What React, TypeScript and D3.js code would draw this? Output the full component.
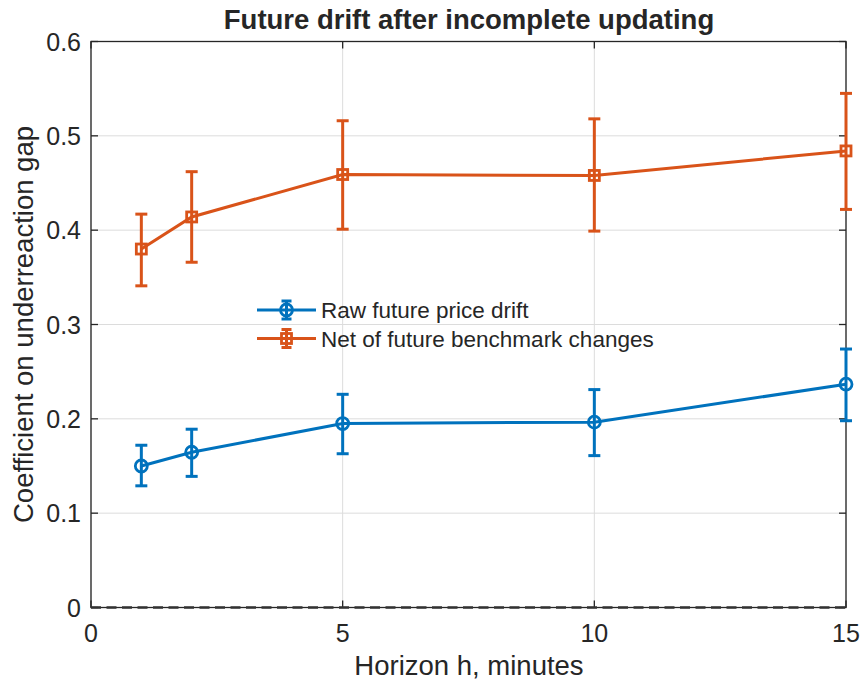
import React from "react";
import * as d3 from "d3";

const horizons = [1, 2, 5, 10, 15];
const rawDrift = [0.150, 0.1646, 0.195, 0.1965, 0.2367];
const rawLow = [0.129, 0.139, 0.163, 0.161, 0.198];
const rawHigh = [0.172, 0.189, 0.226, 0.231, 0.274];
const netDrift = [0.380, 0.414, 0.459, 0.458, 0.484];
const netLow = [0.341, 0.366, 0.401, 0.399, 0.422];
const netHigh = [0.417, 0.462, 0.516, 0.518, 0.545];
const xTicks = [0, 5, 10, 15];
const yTicks = [0, 0.1, 0.2, 0.3, 0.4, 0.5, 0.6];
const seriesNames = ["Raw future price drift", "Net of future benchmark changes"];

const W = 864;
const H = 681;
const left = 91;
const right = 846;
const top = 41.5;
const bottom = 607.5;
const BLUE = "#0072BD";
const ORANGE = "#D95319";
const AX = "#262626";
const FONT = "'Liberation Sans', Arial, Helvetica, sans-serif";

export default function App() {
  const x = d3.scaleLinear().domain([0, 15]).range([left, right]);
  const y = d3.scaleLinear().domain([0, 0.6]).range([bottom, top]);
  const line = d3
    .line<[number, number]>()
    .x((d) => x(d[0]))
    .y((d) => y(d[1]));

  const series = [
    { name: seriesNames[0], v: rawDrift, lo: rawLow, hi: rawHigh, color: BLUE, marker: "circle" },
    { name: seriesNames[1], v: netDrift, lo: netLow, hi: netHigh, color: ORANGE, marker: "square" },
  ];

  const cap = 6;
  const lw = 3;

  const marker = (m: string, cx: number, cy: number, color: string, key: string) =>
    m === "circle" ? (
      <circle key={key} cx={cx} cy={cy} r={6} fill="none" stroke={color} strokeWidth={2.8} />
    ) : (
      <rect key={key} x={cx - 5} y={cy - 5} width={10} height={10} fill="none" stroke={color} strokeWidth={2.8} />
    );

  return (
    <svg width={W} height={H} style={{ position: "absolute", left: 0, top: 0, background: "#fff" }} fontFamily={FONT}>
      <rect x={0} y={0} width={W} height={H} fill="#fff" />
      {/* grid */}
      {xTicks.map((t) => (
        <line key={"gx" + t} x1={x(t)} x2={x(t)} y1={top} y2={bottom} stroke="#dcdcdc" strokeWidth={1} />
      ))}
      {yTicks.map((t) => (
        <line key={"gy" + t} x1={left} x2={right} y1={y(t)} y2={y(t)} stroke="#dcdcdc" strokeWidth={1} />
      ))}
      {/* axes box */}
      <rect x={left} y={top} width={right - left} height={bottom - top} fill="none" stroke={AX} strokeWidth={1.3} />
      {/* ticks */}
      {xTicks.map((t) => (
        <g key={"tx" + t}>
          <line x1={x(t)} x2={x(t)} y1={bottom} y2={bottom - 7} stroke={AX} strokeWidth={1.3} />
          <line x1={x(t)} x2={x(t)} y1={top} y2={top + 7} stroke={AX} strokeWidth={1.3} />
          <text x={x(t)} y={642} textAnchor="middle" fontSize={25} fill={AX}>
            {t}
          </text>
        </g>
      ))}
      {yTicks.map((t) => (
        <g key={"ty" + t}>
          <line x1={left} x2={left + 7} y1={y(t)} y2={y(t)} stroke={AX} strokeWidth={1.3} />
          <line x1={right} x2={right - 7} y1={y(t)} y2={y(t)} stroke={AX} strokeWidth={1.3} />
          <text x={81} y={y(t) + 9} textAnchor="end" fontSize={25} fill={AX}>
            {t === 0 ? "0" : t.toFixed(1)}
          </text>
        </g>
      ))}
      {/* zero dashed line */}
      <line x1={left} x2={right} y1={y(0)} y2={y(0)} stroke="#333" strokeWidth={2.5} strokeDasharray="10,5.5" />
      {/* series */}
      {series.map((s) => (
        <g key={s.name}>
          <path
            d={line(horizons.map((h, i) => [h, s.v[i]] as [number, number])) || ""}
            fill="none"
            stroke={s.color}
            strokeWidth={lw}
          />
          {horizons.map((h, i) => (
            <g key={"e" + i} stroke={s.color} strokeWidth={lw}>
              <line x1={x(h)} x2={x(h)} y1={y(s.lo[i])} y2={y(s.hi[i])} />
              <line x1={x(h) - cap} x2={x(h) + cap} y1={y(s.lo[i])} y2={y(s.lo[i])} />
              <line x1={x(h) - cap} x2={x(h) + cap} y1={y(s.hi[i])} y2={y(s.hi[i])} />
            </g>
          ))}
          {horizons.map((h, i) => marker(s.marker, x(h), y(s.v[i]), s.color, "m" + i))}
        </g>
      ))}
      {/* legend */}
      {series.map((s, i) => {
        const cy = 310 + i * 28.5;
        return (
          <g key={"leg" + i}>
            <line x1={257} x2={316} y1={cy} y2={cy} stroke={s.color} strokeWidth={lw} />
            <line x1={286.5} x2={286.5} y1={cy - 9} y2={cy + 9} stroke={s.color} strokeWidth={lw} />
            <line x1={286.5 - 5} x2={286.5 + 5} y1={cy - 9} y2={cy - 9} stroke={s.color} strokeWidth={lw} />
            <line x1={286.5 - 5} x2={286.5 + 5} y1={cy + 9} y2={cy + 9} stroke={s.color} strokeWidth={lw} />
            {marker(s.marker, 286.5, cy, s.color, "lm" + i)}
            <text x={321} y={cy + 8} fontSize={22.5} fill={AX}>
              {s.name}
            </text>
          </g>
        );
      })}
      {/* title and labels */}
      <text x={469} y={29} textAnchor="middle" fontSize={27.5} fontWeight="bold" fill={AX}>
        Future drift after incomplete updating
      </text>
      <text x={469} y={675} textAnchor="middle" fontSize={27.5} fill={AX}>
        Horizon h, minutes
      </text>
      <text
        transform={`translate(33, ${(top + bottom) / 2}) rotate(-90)`}
        textAnchor="middle"
        fontSize={27.5}
        fill={AX}
      >
        Coefficient on underreaction gap
      </text>
    </svg>
  );
}
